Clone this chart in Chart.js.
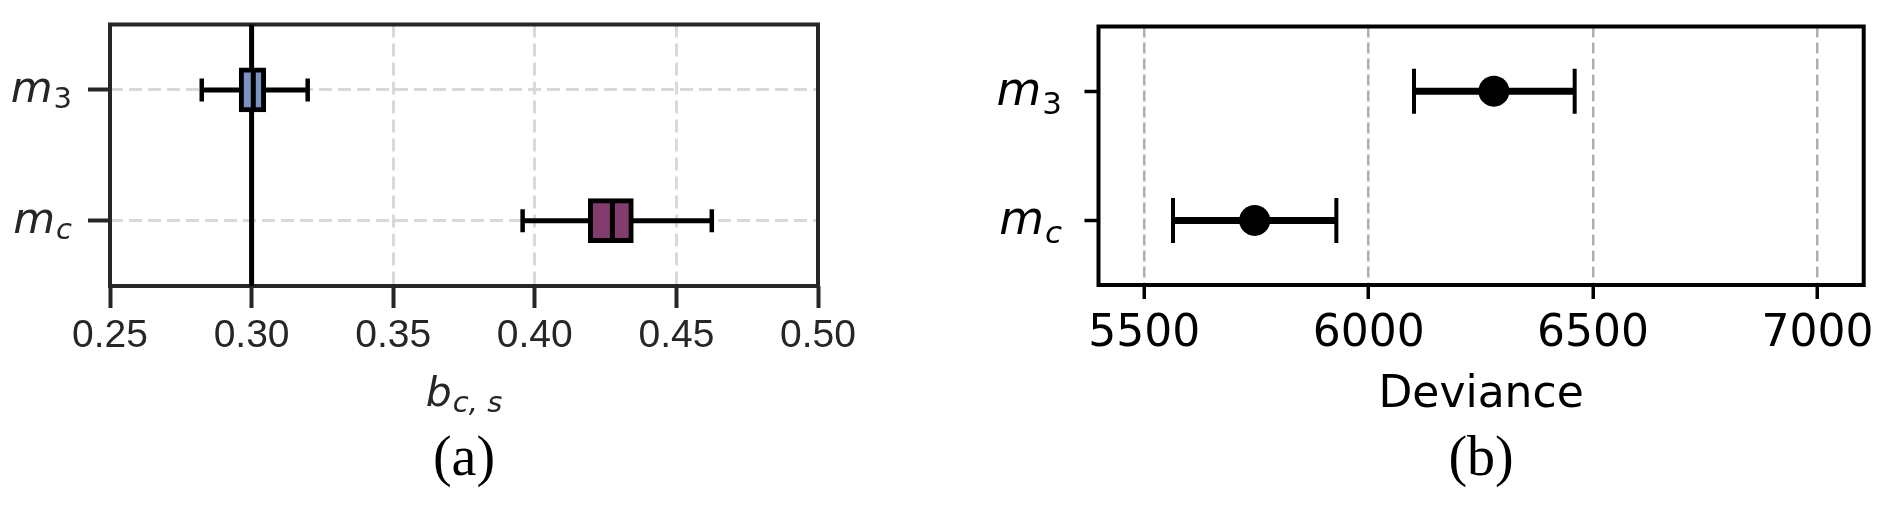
<!DOCTYPE html>
<html>
<head>
<meta charset="utf-8">
<script src="https://cdn.jsdelivr.net/npm/chart.js@4.4.1/dist/chart.umd.min.js"></script>
<style>
  html, body { margin: 0; padding: 0; background: #fff; }
  #wrap { position: relative; width: 1892px; height: 506px; }
  canvas { position: absolute; top: 0; }
  #chartA { left: 0; }
  #chartB { left: 946px; }
</style>
</head>
<body>
<div id="wrap">
  <canvas id="chartA" width="946" height="506"></canvas>
  <canvas id="chartB" width="946" height="506"></canvas>
</div>
<script>
// model names, top to bottom ("_" marks a subscript)
const models = ['m_3', 'm_c'];

// (a) box plot of b_c,s
const whiskerLow = [0.2824, 0.3957];
const boxLow = [0.2956, 0.4189];
const medians = [0.3006, 0.4274];
const boxHigh = [0.3050, 0.4348];
const whiskerHigh = [0.3198, 0.4625];
const boxColors = ['#7b93c1', '#813b6c'];
const refValue = 0.30;
const ticksA = [0.25, 0.30, 0.35, 0.40, 0.45, 0.50];

// (b) deviance with error bars
const deviance = [6279, 5746];
const devianceLow = [6101, 5564];
const devianceHigh = [6459, 5928];
const ticksB = [5500, 6000, 6500, 7000];


// draws "base_sub" like matplotlib mathtext (italic base, smaller subscript)
function drawMath(ctx, label, x, y, cfg, align) {
    const parts = label.split('_');
    const base = parts[0];
    const sub = parts[1] ? parts[1].replace(/,/g, ', ') : '';
    const baseFont = 'italic ' + cfg.size + 'px "DejaVu Sans"';
    const subFont = (/[a-z]/i.test(sub) ? 'italic ' : '') + cfg.subSize + 'px "DejaVu Sans"';
    ctx.save();
    ctx.fillStyle = cfg.color;
    ctx.textBaseline = 'alphabetic';
    ctx.textAlign = 'left';
    ctx.font = baseFont;
    const wb = ctx.measureText(base).width;
    ctx.font = subFont;
    const ws = ctx.measureText(sub).width;
    const total = wb + cfg.subGap + ws;
    let x0 = x;
    if (align === 'right') x0 = x - total;
    if (align === 'center') x0 = x - total / 2;
    ctx.font = baseFont;
    ctx.fillText(base, x0, y + cfg.baseShift);
    ctx.font = subFont;
    ctx.fillText(sub, x0 + wb + cfg.subGap, y + cfg.subShift);
    ctx.restore();
}

// box round the plot area, under the data
const framePlugin = {
    id: 'frame',
    beforeDatasetsDraw(chart, args, opts) {
        const { ctx, chartArea: a } = chart;
        ctx.save();
        ctx.strokeStyle = opts.color;
        ctx.lineWidth = opts.width;
        ctx.strokeRect(a.left, a.top, a.right - a.left, a.bottom - a.top);
        ctx.restore();
    }
};

// y tick labels (and optional x title) with subscripts
const mathPlugin = {
    id: 'mathLabels',
    afterDraw(chart, args, opts) {
        const { ctx } = chart;
        const yScale = chart.scales.y;
        const xRight = yScale.right - yScale.options.grid.tickLength - opts.gap;
        opts.labels.forEach((lab, i) => {
            drawMath(ctx, lab, xRight, yScale.getPixelForValue(i), opts.tick, 'right');
        });
        if (opts.xTitle) {
            const xScale = chart.scales.x;
            drawMath(ctx, opts.xTitle, (xScale.left + xScale.right) / 2, xScale.top + opts.xTitleOffset, opts.titleStyle, 'center');
        }
    }
};


/**
 * (a) box plot
 */
const whiskerSets = models.map((m, i) => ({
    type: 'line',
    data: [{ x: whiskerLow[i], y: i }, { x: whiskerHigh[i], y: i }],
    borderColor: '#000',
    borderWidth: 5,
    pointStyle: 'line',
    pointRotation: 90,
    pointRadius: 11.5,
    pointBorderWidth: 4.5,
    order: 3,
}));

const chartA = new Chart(document.getElementById('chartA').getContext('2d'), {
    type: 'line',
    data: {
        datasets: [
            {
                type: 'line',
                data: [{ x: refValue, y: -0.5 }, { x: refValue, y: 1.5 }],
                borderColor: '#000',
                borderWidth: 5,
                pointRadius: 0,
                order: 4,
            },
            ...whiskerSets,
            {
                type: 'bar',
                indexAxis: 'y',
                data: models.map((m, i) => ({ y: i, x: [boxLow[i], boxHigh[i]] })),
                backgroundColor: boxColors,
                borderColor: '#000',
                borderWidth: 5,
                borderSkipped: false,
                barThickness: 44,
                order: 2,
            },
            {
                type: 'line',
                showLine: false,
                data: models.map((m, i) => ({ x: medians[i], y: i })),
                borderColor: '#000',
                pointStyle: 'line',
                pointRotation: 90,
                pointRadius: 19.5,
                pointBorderWidth: 5,
                order: 1,
            }
        ]
    },
    options: {
        responsive: false,
        animation: false,
        layout: { padding: { left: 0, top: 22, right: 128, bottom: 0 } },
        scales: {
            x: {
                type: 'linear',
                position: 'bottom',
                offset: false,
                min: 0.25,
                max: 0.50,
                afterBuildTicks: (scale) => { scale.ticks = ticksA.map(v => ({ value: v })); },
                afterFit: (scale) => { scale.height = 140.8; },
                border: { display: false, dash: [13, 6] },
                grid: {
                    offset: false,
                    color: '#d9d9d9',
                    lineWidth: 3,
                    tickColor: '#262626',
                    tickWidth: 4,
                    tickLength: 22,
                },
                ticks: {
                    color: '#262626',
                    padding: 5,
                    font: { family: '"Liberation Sans", Arial, sans-serif', size: 39 },
                    callback: (v) => v.toFixed(2),
                },
            },
            y: {
                type: 'linear',
                position: 'left',
                reverse: true,
                offset: false,
                min: -0.5,
                max: 1.5,
                afterBuildTicks: (scale) => { scale.ticks = models.map((m, i) => ({ value: i })); },
                afterFit: (scale) => { scale.width = 110; },
                border: { display: false, dash: [13, 6] },
                grid: {
                    offset: false,
                    color: '#d9d9d9',
                    lineWidth: 3,
                    tickColor: '#262626',
                    tickWidth: 4,
                    tickLength: 22,
                },
                ticks: { display: false },
            }
        },
        plugins: {
            legend: { display: false },
            tooltip: { enabled: false },
            title: {
                display: true,
                position: 'bottom',
                fullSize: false,
                text: '(a)',
                color: '#000',
                font: { family: '"Liberation Serif", "Times New Roman", serif', size: 56, weight: 'normal' },
                padding: { top: 0, bottom: 12 },
            },
            frame: { color: '#262626', width: 4 },
            mathLabels: {
                labels: models,
                gap: 16,
                tick: { size: 43, subSize: 29, subGap: 1, baseShift: 12, subShift: 18, color: '#262626' },
                xTitle: 'b_c,s',
                xTitleOffset: 120,
                titleStyle: { size: 41, subSize: 29, subGap: 1, baseShift: 0, subShift: 6, color: '#262626' },
            },
        },
    },
    plugins: [framePlugin, mathPlugin],
});


/**
 * (b) deviance points with error bars
 */
const errorSets = models.map((m, i) => ({
    type: 'line',
    data: [{ x: devianceLow[i], y: i }, { x: devianceHigh[i], y: i }],
    borderColor: '#000',
    borderWidth: 7,
    pointStyle: 'line',
    pointRotation: 90,
    pointRadius: 22.5,
    pointBorderWidth: 4,
    order: 2,
}));

const chartB = new Chart(document.getElementById('chartB').getContext('2d'), {
    type: 'line',
    data: {
        datasets: [
            ...errorSets,
            {
                type: 'line',
                showLine: false,
                data: models.map((m, i) => ({ x: deviance[i], y: i })),
                pointStyle: 'circle',
                pointRadius: 15.5,
                pointBorderWidth: 0,
                pointBackgroundColor: '#000',
                borderColor: '#000',
                order: 1,
            }
        ]
    },
    options: {
        responsive: false,
        animation: false,
        layout: { padding: { left: 0, top: 22, right: 28.3, bottom: 0 } },
        scales: {
            x: {
                type: 'linear',
                position: 'bottom',
                min: 5398,
                max: 7103,
                afterBuildTicks: (scale) => { scale.ticks = ticksB.map(v => ({ value: v })); },
                afterFit: (scale) => { scale.height = 141.8; },
                border: { display: false, dash: [11, 5] },
                grid: {
                    color: '#b0b0b0',
                    lineWidth: 2.5,
                    tickColor: '#000',
                    tickWidth: 3.5,
                    tickLength: 14,
                },
                ticks: {
                    color: '#000',
                    padding: 9,
                    font: { family: '"DejaVu Sans", sans-serif', size: 44 },
                    callback: (v) => String(v),
                },
                title: {
                    display: true,
                    text: 'Deviance',
                    color: '#000',
                    font: { family: '"DejaVu Sans", sans-serif', size: 44 },
                    padding: { top: 0, bottom: 4.4 },
                },
            },
            y: {
                type: 'linear',
                position: 'left',
                reverse: true,
                min: -0.5,
                max: 1.5,
                afterBuildTicks: (scale) => { scale.ticks = models.map((m, i) => ({ value: i })); },
                afterFit: (scale) => { scale.width = 152.5; },
                border: { display: false },
                grid: {
                    drawOnChartArea: false,
                    tickColor: '#000',
                    tickWidth: 3.5,
                    tickLength: 14,
                },
                ticks: { display: false },
            }
        },
        plugins: {
            legend: { display: false },
            tooltip: { enabled: false },
            title: {
                display: true,
                position: 'bottom',
                fullSize: false,
                text: '(b)',
                color: '#000',
                font: { family: '"Liberation Serif", "Times New Roman", serif', size: 56, weight: 'normal' },
                padding: { top: 0, bottom: 12 },
            },
            frame: { color: '#000', width: 4 },
            mathLabels: {
                labels: models,
                gap: 22.5,
                tick: { size: 46, subSize: 31, subGap: 1, baseShift: 14, subShift: 23, color: '#000' },
            },
        },
    },
    plugins: [framePlugin, mathPlugin],
});
</script>
</body>
</html>
